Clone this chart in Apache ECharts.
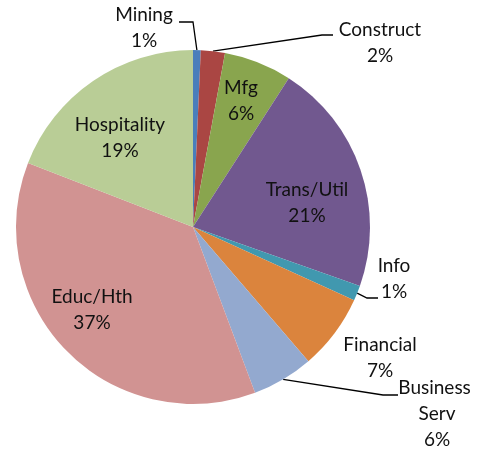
<!DOCTYPE html>
<html>
<head>
<meta charset="utf-8">
<script src="https://cdn.jsdelivr.net/npm/echarts@6/dist/echarts.min.js"></script>
<style>
  html, body { margin: 0; padding: 0; background: #fff; }
  #chart { width: 484px; height: 451px; }
</style>
</head>
<body>
<div id="chart"></div>
<script>
// sector shares (clockwise from 12 o'clock)
const sectors = ['Mining', 'Construct', 'Mfg', 'Trans/Util', 'Info', 'Financial', 'Business Serv', 'Educ/Hth', 'Hospitality'];
const shares = [0.7, 2.2, 6.2, 21.3, 1.4, 6.9, 5.6, 36.6, 19.1];
const colors = ['#4A7EBB', '#AA4643', '#89A54E', '#71588F', '#4198AF', '#DB843D', '#93A9CF', '#D19392', '#B9CD96'];

// where each label block sits, and the bend/end of its leader line (null = no line)
const labelAt = [[144, 28], [380, 43], [241, 101], [307, 203], [394, 279], [380, 358], [437, 414], [92, 310], [120, 138]];
const leader = [
    [[193, 22], [179, 22]],
    [[322, 35], [333, 35]],
    null, null,
    [[367, 298], [378, 298]],
    null,
    [[383, 395], [398, 395]],
    null, null
];

const chart = echarts.init(document.getElementById('chart'));

chart.setOption({
    animation: false,
    series: [{
        type: 'pie',
        center: [193, 227],
        radius: 177,
        startAngle: 90,
        clockwise: true,
        avoidLabelOverlap: false,
        itemStyle: { borderWidth: 0 },
        label: {
            show: true,
            position: 'outside',
            fontFamily: 'Lato',
            fontSize: 19,
            lineHeight: 26,
            color: '#111',
            align: 'center',
            formatter: function (p) {
                return p.name + '\n' + Math.round(p.percent) + '%';
            }
        },
        labelLine: {
            show: true,
            lineStyle: { color: '#000', width: 1.3 }
        },
        labelLayout: function (params) {
            const i = params.dataIndex;
            const out = {
                x: labelAt[i][0],
                y: labelAt[i][1],
                align: 'center',
                verticalAlign: 'middle'
            };
            if (leader[i] && params.labelLinePoints) {
                out.labelLinePoints = [params.labelLinePoints[0], leader[i][0], leader[i][1]];
            }
            return out;
        },
        data: sectors.map(function (name, i) {
            const item = {
                name: name,
                value: shares[i],
                itemStyle: { color: colors[i] },
                labelLine: { show: !!leader[i] }
            };
            if (name === 'Business Serv') {
                item.label = { width: 90, overflow: 'break' };
            }
            return item;
        })
    }]
});
</script>
</body>
</html>
